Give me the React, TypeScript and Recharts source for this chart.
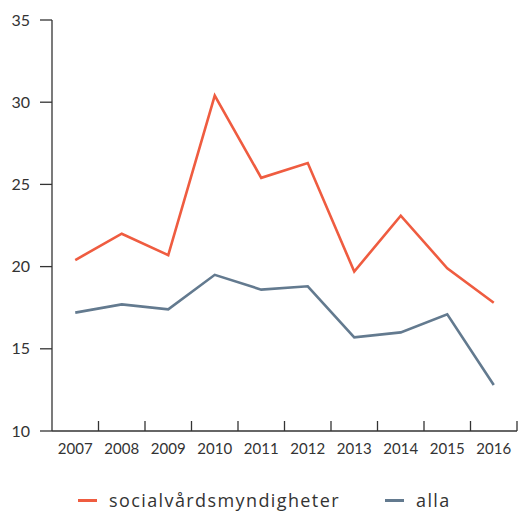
import { CartesianGrid, Legend, Line, LineChart, XAxis, YAxis } from "recharts";

const years = ["2007", "2008", "2009", "2010", "2011", "2012", "2013", "2014", "2015", "2016"];
const social = [20.4, 22.0, 20.7, 30.4, 25.4, 26.3, 19.7, 23.1, 19.9, 17.8];
const alla = [17.2, 17.7, 17.4, 19.5, 18.6, 18.8, 15.7, 16.0, 17.1, 12.8];
const yTicks = [10, 15, 20, 25, 30, 35];

const ORANGE = "#ef5c40";
const SLATE = "#637a8f";
const INK = "#333333";
const FONT = "Lato, 'Open Sans', sans-serif";

const W = 519;
const H = 513;
const Y_W = 52;
const M_RIGHT = 2;
const BAND = (W - Y_W - M_RIGHT) / years.length;

const data = years.map((year, i) => ({ year, social: social[i], alla: alla[i] }));

function YearTick({ x, y, payload }: any) {
  return (
    <g>
      <line x1={x + BAND / 2} x2={x + BAND / 2} y1={y} y2={y - 10} stroke={INK} strokeWidth={1.3} />
      <text x={x} y={y + 23} textAnchor="middle" fill={INK} fontSize={15} fontFamily={FONT}>
        {payload.value}
      </text>
    </g>
  );
}

function LegendBox() {
  const item = (left: number, color: string, label: string) => (
    <div style={{ position: "absolute", left, top: 0, height: 22, display: "flex", alignItems: "center" }}>
      <span style={{ display: "inline-block", width: 19, height: 3, background: color, marginRight: 12 }} />
      <span style={{ fontSize: 18, lineHeight: "22px", color: INK, fontFamily: "'Open Sans', sans-serif", letterSpacing: 1.4 }}>
        {label}
      </span>
    </div>
  );
  return (
    <div style={{ position: "relative", height: 22 }}>
      {item(78, ORANGE, "socialvårdsmyndigheter")}
      {item(385, SLATE, "alla")}
    </div>
  );
}

export default function App() {
  return (
    <div style={{ position: "absolute", left: 0, top: 0, width: W, height: H, background: "#fff" }}>
      <LineChart width={W} height={H} data={data} margin={{ top: 20, right: M_RIGHT, left: 0, bottom: 22 }}>
        <CartesianGrid stroke="none" />
        <XAxis
          dataKey="year"
          scale="band"
          height={30}
          tickSize={0}
          tickMargin={0}
          tick={<YearTick />}
          axisLine={{ stroke: INK, strokeWidth: 1.3 }}
          interval={0}
        />
        <YAxis
          width={Y_W}
          domain={[10, 35]}
          ticks={yTicks}
          tickSize={12}
          tickMargin={10}
          tick={{ fill: INK, fontSize: 16, fontFamily: FONT }}
          tickLine={{ stroke: INK, strokeWidth: 1.3 }}
          axisLine={{ stroke: INK, strokeWidth: 1.3 }}
        />
        <Legend
          verticalAlign="bottom"
          height={30}
          content={<LegendBox />}
          wrapperStyle={{ left: 0, width: W, top: 489, bottom: "auto" }}
        />
        <Line dataKey="social" name="socialvårdsmyndigheter" stroke={ORANGE} strokeWidth={2.6} dot={false} isAnimationActive={false} />
        <Line dataKey="alla" name="alla" stroke={SLATE} strokeWidth={2.6} dot={false} isAnimationActive={false} />
      </LineChart>
    </div>
  );
}
